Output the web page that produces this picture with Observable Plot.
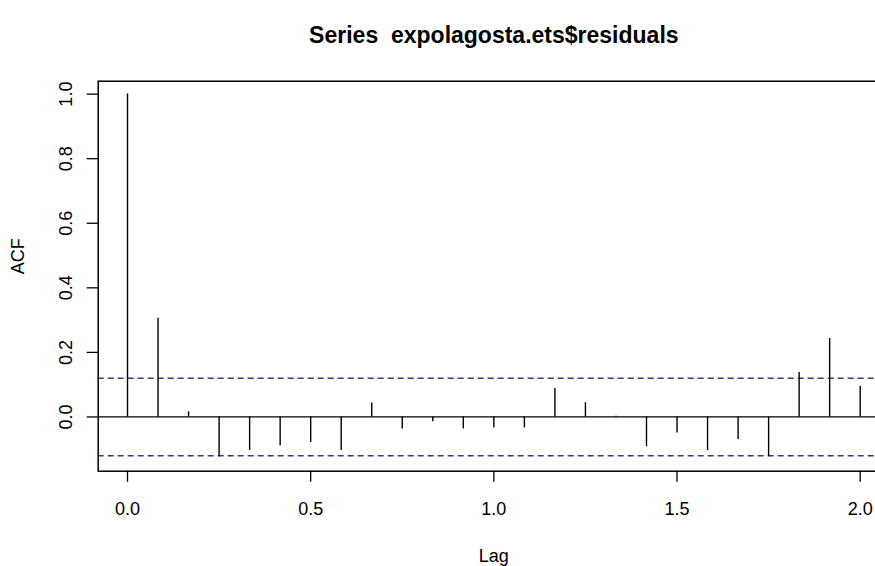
<!DOCTYPE html>
<html><head><meta charset="utf-8">
<script src="https://cdn.jsdelivr.net/npm/d3@7"></script>
<script src="https://cdn.jsdelivr.net/npm/@observablehq/plot@0.6"></script>
<style>
body{margin:0;background:#fff;}
#wrap{width:875px;height:566px;overflow:hidden;position:relative;background:#fff;}
#wrap svg{max-width:none !important;}
</style></head><body><div id="wrap"></div>
<script>
const title = "Series  expolagosta.ets$residuals";
const xLabel = "Lag";
const yLabel = "ACF";
const frequency = 12;
const lagMonths = [0, 1, 2, 3, 4, 5, 6, 7, 8, 9, 10, 11, 12, 13, 14, 15, 16, 17, 18, 19, 20, 21, 22, 23, 24];
const acfValues = [1.000, 0.306, 0.016, -0.123, -0.104, -0.089, -0.079, -0.104, 0.043, -0.037, -0.015, -0.037,
                   -0.034, -0.034, 0.088, 0.044, 0.002, -0.092, -0.050, -0.104, -0.070, -0.123, 0.138, 0.243, 0.095];
const ciBounds = [0.12, -0.12];
const xTicks = [0, 0.5, 1, 1.5, 2];
const yTicks = [0, 0.2, 0.4, 0.6, 0.8, 1];

const data = lagMonths.map((m, i) => ({lag: m / frequency, acf: acfValues[i]}));
const font = "'Liberation Sans', Arial, sans-serif";

const chart = Plot.plot({
  width: 889,
  height: 566,
  marginLeft: 97.7,
  marginRight: 0,
  marginTop: 80.7,
  marginBottom: 95.3,
  style: {fontFamily: font, fontSize: "18px", color: "black", background: "white", maxWidth: "none"},
  x: {domain: [-0.08, 2.08]},
  y: {domain: [-0.168, 1.04]},
  marks: [
    Plot.ruleY([0], {stroke: "black", strokeWidth: 1.3}),
    Plot.ruleY(ciBounds, {stroke: "#3a3a8c", strokeWidth: 1.4, strokeDasharray: "6,4"}),
    Plot.ruleX(data, {x: "lag", y1: 0, y2: "acf", stroke: "black", strokeWidth: 1.4}),
    Plot.frame({stroke: "black", strokeWidth: 1.5}),
    Plot.axisX({ticks: xTicks, tickSize: 11, tickPadding: 20, tickFormat: d3.format(".1f"), fontSize: 18, label: null, strokeWidth: 1.3}),
    Plot.axisY({ticks: yTicks, tickSize: 11, tickPadding: 15, tickFormat: d3.format(".1f"), tickRotate: -90, fontSize: 18, label: null, strokeWidth: 1.3}),
    Plot.text([title], {frameAnchor: "top", dy: -55, fontSize: 23, fontWeight: "bold"}),
    Plot.text([xLabel], {frameAnchor: "bottom", dy: 91, fontSize: 18}),
    Plot.text([yLabel], {frameAnchor: "left", dx: -79.7, dy: -2, rotate: -90, fontSize: 18})
  ]
});
document.getElementById("wrap").appendChild(chart);
</script>
</body></html>
